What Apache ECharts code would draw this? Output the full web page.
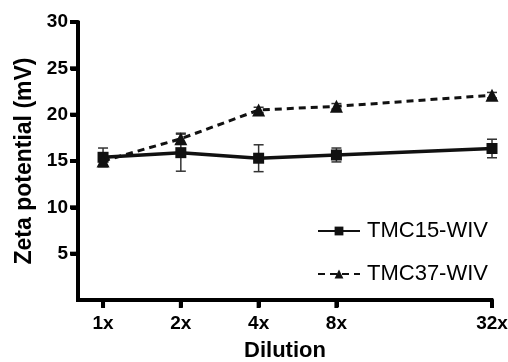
<!DOCTYPE html>
<html><head><meta charset="utf-8">
<script src="https://cdn.jsdelivr.net/npm/echarts@6/dist/echarts.min.js"></script>
<style>html,body{margin:0;padding:0;background:#fff}#c{width:508px;height:362px}</style>
</head><body><div id="c"></div>
<script>
const dilutions = [1, 2, 4, 8, 32];
const xTickLabels = ['1x', '2x', '4x', '8x', '32x'];
const yTicks = [5, 10, 15, 20, 25, 30];
const tmc15 = [15.4, 15.9, 15.3, 15.65, 16.35];
const tmc15Err = [1.0, 2.0, 1.45, 0.75, 1.0];
const tmc37 = [15.0, 17.4, 20.5, 20.9, 22.1];
const tmc37Err = [0.6, 0.6, 0.3, 0.3, 0.3];

const font = "'Liberation Sans', Arial, sans-serif";
const ink = '#000';
const xMin = 0.8, xMax = 32, yMin = 0, yMax = 30;

function pts(vals){ return dilutions.map((d,i)=>[d, vals[i]]); }
function errData(vals, errs){ return dilutions.map((d,i)=>[d, vals[i]-errs[i], vals[i]+errs[i]]); }
function errSeries(vals, errs){
  return {
    type: 'custom', silent: true, z: 1,
    data: errData(vals, errs),
    encode: {x: 0, y: [1, 2]},
    renderItem: function(params, api){
      const lo = api.coord([api.value(0), api.value(1)]);
      const hi = api.coord([api.value(0), api.value(2)]);
      const w = 5;
      const st = {stroke: '#333', lineWidth: 1.5};
      return {type: 'group', children: [
        {type: 'line', shape: {x1: lo[0], y1: lo[1], x2: hi[0], y2: hi[1]}, style: st},
        {type: 'line', shape: {x1: lo[0]-w, y1: lo[1], x2: lo[0]+w, y2: lo[1]}, style: st},
        {type: 'line', shape: {x1: hi[0]-w, y1: hi[1], x2: hi[0]+w, y2: hi[1]}, style: st}
      ]};
    }
  };
}

const chart = echarts.init(document.getElementById('c'));
chart.setOption({
  animation: false,
  grid: {left: 78, right: 16, top: 22, bottom: 62, containLabel: false, outerBoundsMode: 'none'},
  legend: {
    orient: 'vertical', left: 317, top: 220, itemGap: 21, padding: 0,
    itemWidth: 42, itemHeight: 11,
    textStyle: {fontFamily: font, fontSize: 22, color: ink, padding: [0,0,0,2]},
    data: ['TMC15-WIV', 'TMC37-WIV']
  },
  xAxis: {
    type: 'log', logBase: 2, min: xMin, max: xMax,
    name: 'Dilution', nameLocation: 'middle', nameGap: 40,
    nameTextStyle: {fontFamily: font, fontSize: 22, fontWeight: 'bold', color: ink},
    axisLine: {show: true, lineStyle: {color: ink, width: 4}},
    axisTick: {show: true, length: 7, lineStyle: {color: ink, width: 4}, customValues: dilutions},
    axisLabel: {fontFamily: font, fontSize: 19, fontWeight: 'bold', color: ink, margin: 14,
      customValues: dilutions,
      formatter: function(v){ const i = dilutions.indexOf(Math.round(v)); return i>=0 ? xTickLabels[i] : ''; }},
    splitLine: {lineStyle: {opacity: 0}}
  },
  yAxis: {
    type: 'value', min: yMin, max: yMax, interval: 5,
    name: 'Zeta potential (mV)', nameLocation: 'middle', nameGap: 38,
    nameTextStyle: {fontFamily: font, fontSize: 23, fontWeight: 'bold', color: ink},
    axisLine: {show: true, lineStyle: {color: ink, width: 4}},
    axisTick: {show: true, length: 7, lineStyle: {color: ink, width: 4}, customValues: yTicks},
    axisLabel: {fontFamily: font, fontSize: 19, fontWeight: 'bold', color: ink, margin: 10, customValues: yTicks},
    splitLine: {lineStyle: {opacity: 0}}
  },
  series: [
    errSeries(tmc15, tmc15Err),
    errSeries(tmc37, tmc37Err),
    {
      name: 'TMC15-WIV', type: 'line', data: pts(tmc15), z: 3,
      symbol: 'rect', symbolSize: 11,
      itemStyle: {color: '#111'},
      lineStyle: {color: '#111', width: 3.5}
    },
    {
      name: 'TMC37-WIV', type: 'line', data: pts(tmc37), z: 3,
      symbol: 'triangle', symbolSize: 13,
      itemStyle: {color: '#111'},
      lineStyle: {color: '#111', width: 3, type: [7, 5]}
    }
  ]
});

// Heavy axis strokes placed through the chart's own scales
try {
  const toPx = v => chart.convertToPixel({xAxisIndex: 0, yAxisIndex: 0}, v);
  const o = toPx([xMin, yMin]), xe = toPx([xMax, yMin]), yt = toPx([xMin, yMax]);
  const st = {stroke: ink, lineWidth: 4};
  const g = [
    {type: 'line', z: 50, shape: {x1: o[0] - 2, y1: o[1], x2: xe[0] + 1, y2: o[1]}, style: st},
    {type: 'line', z: 50, shape: {x1: o[0], y1: o[1] + 2, x2: o[0], y2: yt[1] - 1}, style: st}
  ];
  dilutions.forEach(d => {
    const p = toPx([d, yMin]);
    g.push({type: 'line', z: 50, shape: {x1: p[0], y1: o[1], x2: p[0], y2: o[1] + 8}, style: st});
  });
  yTicks.forEach(v => {
    const p = toPx([xMin, v]);
    g.push({type: 'line', z: 50, shape: {x1: o[0] - 8, y1: p[1], x2: o[0], y2: p[1]}, style: st});
  });
  chart.setOption({graphic: g});
} catch (e) {}
</script></body></html>
